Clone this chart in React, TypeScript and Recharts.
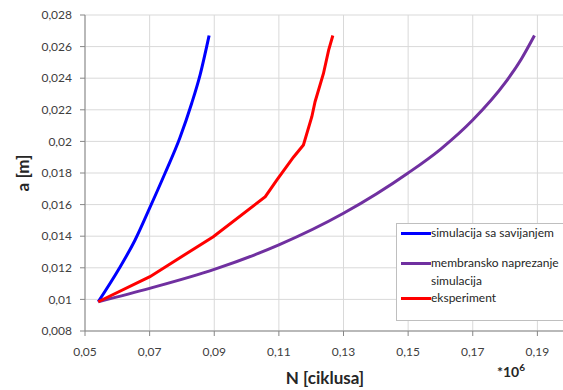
import React from 'react';
import { LineChart, Line, XAxis, YAxis, CartesianGrid } from 'recharts';

// N in millions of cycles, a in metres
const bendingN = [0.0541, 0.0603, 0.0655, 0.0701, 0.0748, 0.0794, 0.083, 0.0856, 0.0884];
const bendingA = [0.00985, 0.01186, 0.01376, 0.01582, 0.018, 0.02025, 0.0224, 0.0242, 0.0267];

const membraneN = [0.0541, 0.07, 0.09, 0.11, 0.13, 0.15, 0.16, 0.17, 0.18, 0.185, 0.1891];
const membraneA = [0.00985, 0.0107, 0.0119, 0.01345, 0.01545, 0.018, 0.0195, 0.02135, 0.0237, 0.0252, 0.0267];

const experimentN = [0.0541, 0.0701, 0.0897, 0.1058, 0.1094, 0.1145, 0.1176, 0.1202, 0.1212, 0.1238, 0.1254, 0.1267];
const experimentA = [0.00985, 0.01144, 0.01397, 0.0165, 0.01756, 0.019, 0.01977, 0.02156, 0.02251, 0.0243, 0.02578, 0.0267];

const xTicks = [0.05, 0.07, 0.09, 0.11, 0.13, 0.15, 0.17, 0.19];
const yTicks = [0.008, 0.01, 0.012, 0.014, 0.016, 0.018, 0.02, 0.022, 0.024, 0.026, 0.028];

const legendItems = [
  { name: 'simulacija sa savijanjem', color: '#0000ff' },
  { name: 'membransko naprezanje simulacija', color: '#7030a0' },
  { name: 'eksperiment', color: '#ff0000' },
];

const zip = (xs: number[], ys: number[]) => xs.map((n, i) => ({ n, a: ys[i] }));

const bending = zip(bendingN, bendingA);
const membrane = zip(membraneN, membraneA);
const experiment = zip(experimentN, experimentA);

const fmt = (v: number) => String(v).replace('.', ',');
const font = 'Lato, "Open Sans", sans-serif';
const tickStyle = { fontSize: 12, fill: '#404040', fontFamily: font };
const titleStyle: React.CSSProperties = {
  position: 'absolute',
  fontFamily: font,
  fontWeight: 700,
  color: '#262626',
  whiteSpace: 'nowrap',
  lineHeight: 1,
};

export default function App() {
  return (
    <div style={{ position: 'fixed', left: 0, top: 0, width: 563, height: 390, overflow: 'hidden', background: '#fff' }}>
      <LineChart width={608} height={390} margin={{ top: 15, right: 6, bottom: 29, left: 0 }}>
        <CartesianGrid stroke="#d9d9d9" strokeWidth={1} />
        <XAxis
          type="number"
          dataKey="n"
          domain={[0.05, 0.21]}
          ticks={xTicks}
          tickFormatter={fmt}
          height={30}
          tickSize={5}
          tickMargin={11}
          tick={tickStyle}
          stroke="#868686"
          allowDataOverflow
        />
        <YAxis
          type="number"
          dataKey="a"
          domain={[0.008, 0.028]}
          ticks={yTicks}
          tickFormatter={fmt}
          width={85}
          tickSize={5}
          tickMargin={8}
          tick={tickStyle}
          stroke="#868686"
        />
        <Line data={bending} dataKey="a" type="monotone" stroke="#0000ff" strokeWidth={3} dot={false} isAnimationActive={false} />
        <Line data={membrane} dataKey="a" type="monotone" stroke="#7030a0" strokeWidth={3} dot={false} isAnimationActive={false} />
        <Line data={experiment} dataKey="a" type="linear" stroke="#ff0000" strokeWidth={3} dot={false} isAnimationActive={false} />
      </LineChart>

      {/* axis titles */}
      <div style={{ ...titleStyle, left: 22, top: 173, fontSize: 17, transform: 'translate(-50%, -50%) rotate(-90deg)' }}>
        a [m]
      </div>
      <div style={{ ...titleStyle, left: 325, top: 377, fontSize: 17, transform: 'translate(-50%, -50%)' }}>
        N [ciklusa]
      </div>
      <div style={{ ...titleStyle, left: 497, top: 365, fontSize: 14 }}>
        *10<span style={{ fontSize: 10, verticalAlign: 'top', position: 'relative', top: -3 }}>6</span>
      </div>

      {/* legend */}
      <div style={{ position: 'absolute', left: 396, top: 223, width: 180, height: 98, border: '1px solid #bfbfbf', background: '#fff', boxSizing: 'border-box', fontFamily: font, fontSize: 12, color: '#262626' }}>
        {legendItems.map((item, i) => (
          <div key={item.name} style={{ position: 'absolute', left: 4, top: [0, 30, 65][i], display: 'flex', alignItems: 'flex-start' }}>
            <span style={{ width: 30, height: 3, background: item.color, marginTop: 8, flexShrink: 0 }} />
            <span style={{ width: i === 1 ? 130 : 160, lineHeight: '18px' }}>{item.name}</span>
          </div>
        ))}
      </div>
    </div>
  );
}
